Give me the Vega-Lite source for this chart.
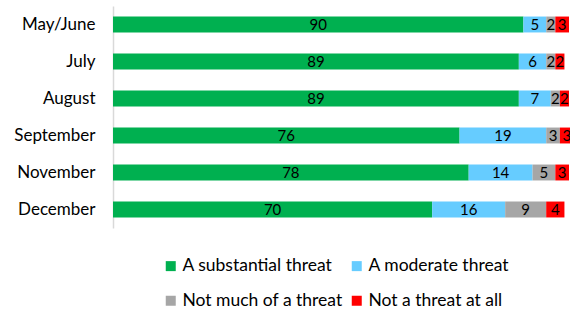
{
  "$schema": "https://vega.github.io/schema/vega-lite/v6.json",
  "width": 456,
  "height": 222,
  "autosize": {"type": "none"},
  "padding": {"left": 113, "top": 6, "right": 1, "bottom": 81},
  "background": "white",
  "config": {"view": {"stroke": null}, "font": "Lato"},
  "data": {
    "values": [
      {"month": "May/June", "cat": "A substantial threat", "k": 1, "v": 90},
      {"month": "May/June", "cat": "A moderate threat", "k": 2, "v": 5},
      {"month": "May/June", "cat": "Not much of a threat", "k": 3, "v": 2},
      {"month": "May/June", "cat": "Not a threat at all", "k": 4, "v": 3},
      {"month": "July", "cat": "A substantial threat", "k": 1, "v": 89},
      {"month": "July", "cat": "A moderate threat", "k": 2, "v": 6},
      {"month": "July", "cat": "Not much of a threat", "k": 3, "v": 2},
      {"month": "July", "cat": "Not a threat at all", "k": 4, "v": 2},
      {"month": "August", "cat": "A substantial threat", "k": 1, "v": 89},
      {"month": "August", "cat": "A moderate threat", "k": 2, "v": 7},
      {"month": "August", "cat": "Not much of a threat", "k": 3, "v": 2},
      {"month": "August", "cat": "Not a threat at all", "k": 4, "v": 2},
      {"month": "September", "cat": "A substantial threat", "k": 1, "v": 76},
      {"month": "September", "cat": "A moderate threat", "k": 2, "v": 19},
      {"month": "September", "cat": "Not much of a threat", "k": 3, "v": 3},
      {"month": "September", "cat": "Not a threat at all", "k": 4, "v": 3},
      {"month": "November", "cat": "A substantial threat", "k": 1, "v": 78},
      {"month": "November", "cat": "A moderate threat", "k": 2, "v": 14},
      {"month": "November", "cat": "Not much of a threat", "k": 3, "v": 5},
      {"month": "November", "cat": "Not a threat at all", "k": 4, "v": 3},
      {"month": "December", "cat": "A substantial threat", "k": 1, "v": 70},
      {"month": "December", "cat": "A moderate threat", "k": 2, "v": 16},
      {"month": "December", "cat": "Not much of a threat", "k": 3, "v": 9},
      {"month": "December", "cat": "Not a threat at all", "k": 4, "v": 4}
    ]
  },
  "transform": [
    {"stack": "v", "groupby": ["month"], "sort": [{"field": "k"}], "as": ["v0", "v1"]},
    {"calculate": "(datum.v0 + datum.v1) / 2", "as": "mid"}
  ],
  "encoding": {
    "y": {
      "field": "month", "type": "nominal",
      "sort": ["May/June", "July", "August", "September", "November", "December"],
      "scale": {"paddingInner": 0.57, "paddingOuter": 0.285},
      "axis": {"title": null, "ticks": false, "domainColor": "#D9D9D9", "domainWidth": 1.5, "labelFontSize": 17, "labelColor": "#000", "labelPadding": 18, "labelFont": "Lato"}
    }
  },
  "layer": [
    {
      "mark": {"type": "bar"},
      "encoding": {
        "x": {"field": "v0", "type": "quantitative", "scale": {"domain": [0, 100], "nice": false}, "axis": null},
        "x2": {"field": "v1"},
        "color": {
          "field": "cat", "type": "nominal",
          "scale": {
            "domain": ["A substantial threat", "A moderate threat", "Not much of a threat", "Not a threat at all"],
            "range": ["#00B050", "#66CCFF", "#A6A6A6", "#FF0000"]
          },
          "legend": {
            "title": null, "orient": "none", "legendX": 49, "legendY": 251,
            "columns": 2, "direction": "horizontal", "symbolType": "square", "symbolSize": 100,
            "symbolStrokeWidth": 0, "labelFontSize": 17.5, "labelColor": "#000", "labelFont": "Lato",
            "labelLimit": 400, "columnPadding": 5, "rowPadding": 16, "labelOffset": 3, "symbolOpacity": 1
          }
        }
      }
    },
    {
      "mark": {"type": "text", "fontSize": 15, "color": "#000", "font": "Lato"},
      "encoding": {
        "x": {"field": "mid", "type": "quantitative"},
        "text": {"field": "v", "type": "quantitative"}
      }
    }
  ]
}
